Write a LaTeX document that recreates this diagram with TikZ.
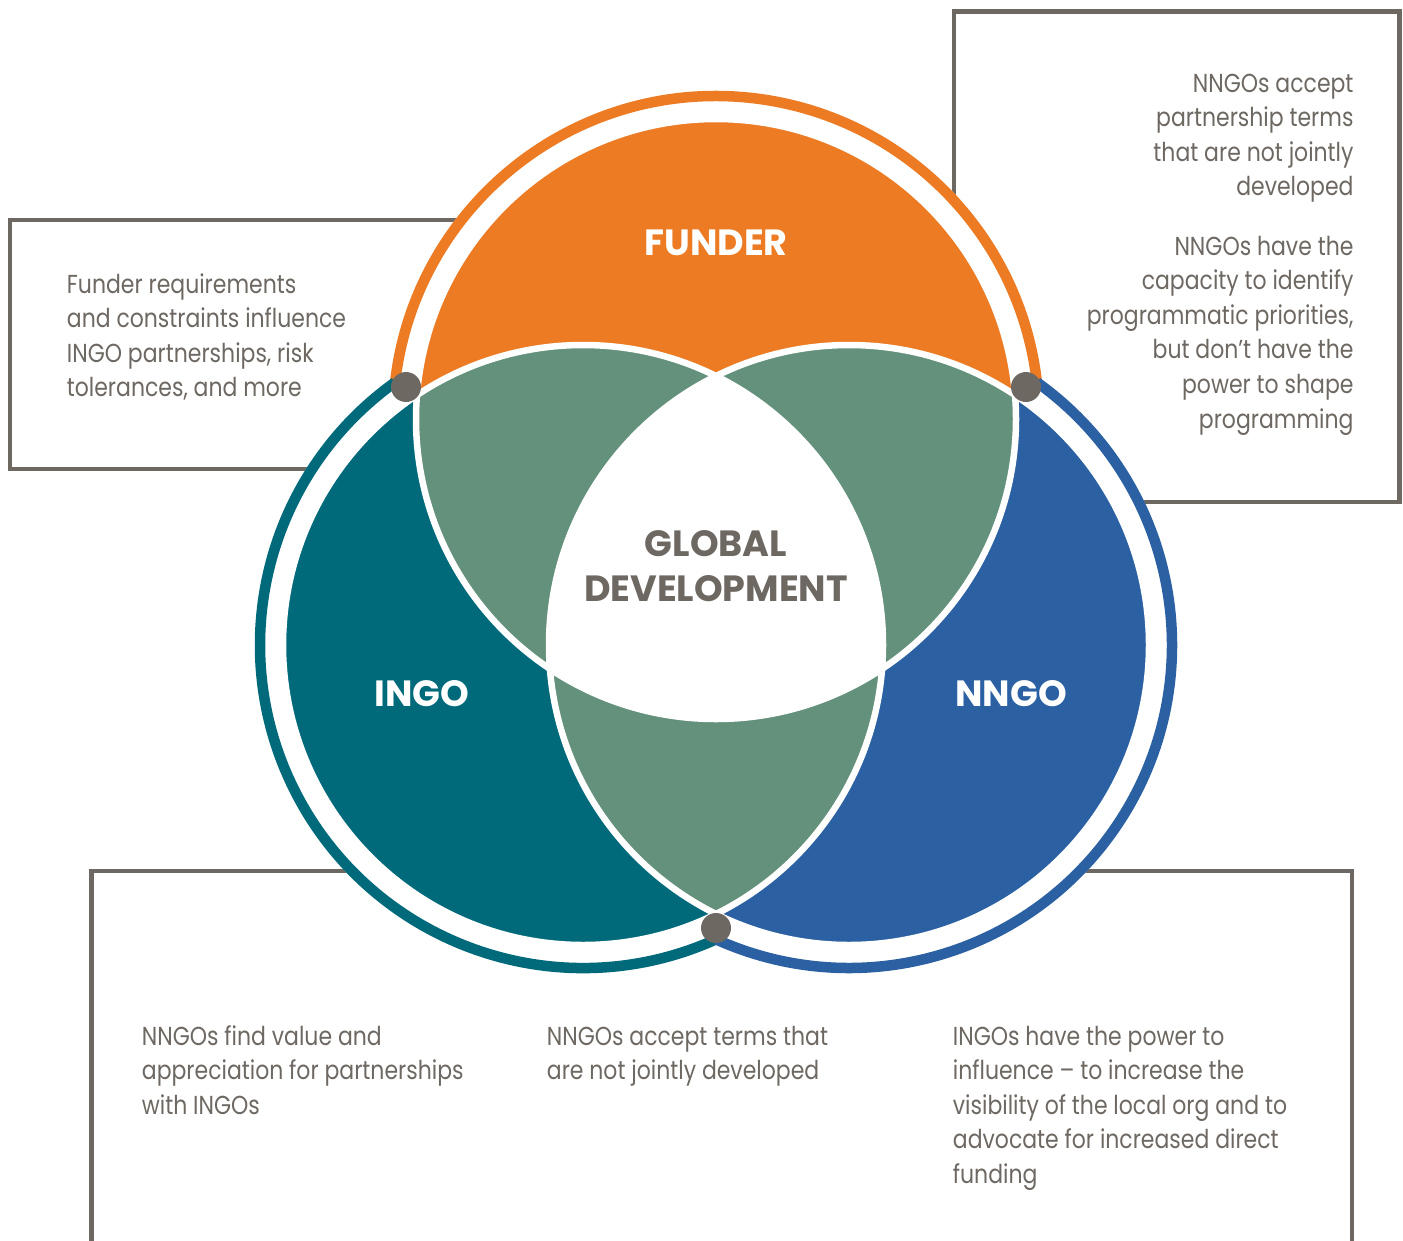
\documentclass[tikz,border=0pt]{standalone}
\usepackage{fontspec}
\setmainfont{Poppins}
\newfontfamily\notefont{Poppins}[FakeStretch=0.845]
\definecolor{funderc}{HTML}{EC7B24}
\definecolor{ingoc}{HTML}{006A7B}
\definecolor{nngoc}{HTML}{2B60A2}
\definecolor{overlapc}{HTML}{64917B}
\definecolor{greyc}{HTML}{6E6862}
\tikzstyle{textbox} = [draw=greyc, line width=4.5pt]
\tikzstyle{ring} = [line width=10.5pt]
\tikzstyle{rim} = [draw=white, line width=6.5pt]
\tikzstyle{joint} = [circle, fill=greyc, minimum size=30pt, inner sep=0pt]
\tikzstyle{lab} = [inner sep=0pt, text=white, font=\fontsize{36.5}{45.7}\selectfont\bfseries]
\tikzstyle{note} = [inner sep=0pt, text=greyc, font=\notefont\fontsize{26}{34.6}\selectfont]

\begin{document}
\begin{tikzpicture}[x=1pt, y=-1pt]
\useasboundingbox (0,0) rectangle (1403,1240);
\coordinate (F) at (716,419);
\coordinate (I) at (583,645);
\coordinate (N) at (849,645);

\draw [textbox] (10,220) rectangle (520,469);
\draw [textbox] (954,11.7) rectangle (1399.5,502);
\draw [textbox] (91.5,1260) |- (1352,871) -- (1352,1260);

\fill [white] (F) circle (328) (I) circle (328) (N) circle (328);
\draw [ring, funderc] (F) ++(186.5:323) arc [start angle=186.5, end angle=353.5, radius=323];
\draw [ring, ingoc] (I) ++(65.7:323) arc [start angle=65.7, end angle=234.4, radius=323];
\draw [ring, nngoc] (N) ++(-54.4:323) arc [start angle=-54.4, end angle=114.3, radius=323];

\fill [funderc] (F) circle (300);
\fill [ingoc] (I) circle (300);
\fill [nngoc] (N) circle (300);
\begin{scope}
\clip (F) circle (300);
\fill [overlapc] (I) circle (300) (N) circle (300);
\end{scope}
\begin{scope}
\clip (I) circle (300);
\fill [overlapc] (N) circle (300);
\end{scope}
\begin{scope}
\clip (F) circle (300);
\clip (I) circle (300);
\fill [white] (N) circle (300);
\end{scope}
\draw [rim] (F) circle (300) (I) circle (300) (N) circle (300);

\node [joint] (Joint_l) at (406,387) {};
\node [joint] (Joint_r) at (1026,387) {};
\node [joint] (Joint_b) at (716,928) {};

\node [lab, anchor=base] (Funder_lab) at (716,255) {FUNDER};
\node [lab, anchor=base] (Ingo_lab) at (422,706) {INGO};
\node [lab, anchor=base] (Nngo_lab) at (1011,706) {NNGO};
\node [lab, anchor=base, text=greyc] (Global_lab) at (716,556) {\parbox[t]{400pt}{\centering GLOBAL\\DEVELOPMENT}};

\node [note, anchor=base west] (Funder_note) at (66.7,293) {\parbox[t]{450pt}{\raggedright Funder requirements\\and constraints influence\\INGO partnerships, risk\\tolerances, and more}};
\node [note, anchor=base east] (Terms_note) at (1353.7,92) {\parbox[t]{450pt}{\raggedleft NNGOs accept\\partnership terms\\that are not jointly\\developed}};
\node [note, anchor=base east] (Capacity_note) at (1353.7,255) {\parbox[t]{450pt}{\raggedleft NNGOs have the\\capacity to identify\\programmatic priorities,\\but don’t have the\\power to shape\\programming}};
\node [note, anchor=base west] (Value_note) at (141.7,1045) {\parbox[t]{450pt}{\raggedright NNGOs find value and\\appreciation for partnerships\\with INGOs}};
\node [note, anchor=base west] (Accept_note) at (546.7,1045) {\parbox[t]{450pt}{\raggedright NNGOs accept terms that\\are not jointly developed}};
\node [note, anchor=base west] (Power_note) at (952.7,1045) {\parbox[t]{450pt}{\raggedright INGOs have the power to\\influence – to increase the\\visibility of the local org and to\\advocate for increased direct\\funding}};
\end{tikzpicture}
\end{document}
